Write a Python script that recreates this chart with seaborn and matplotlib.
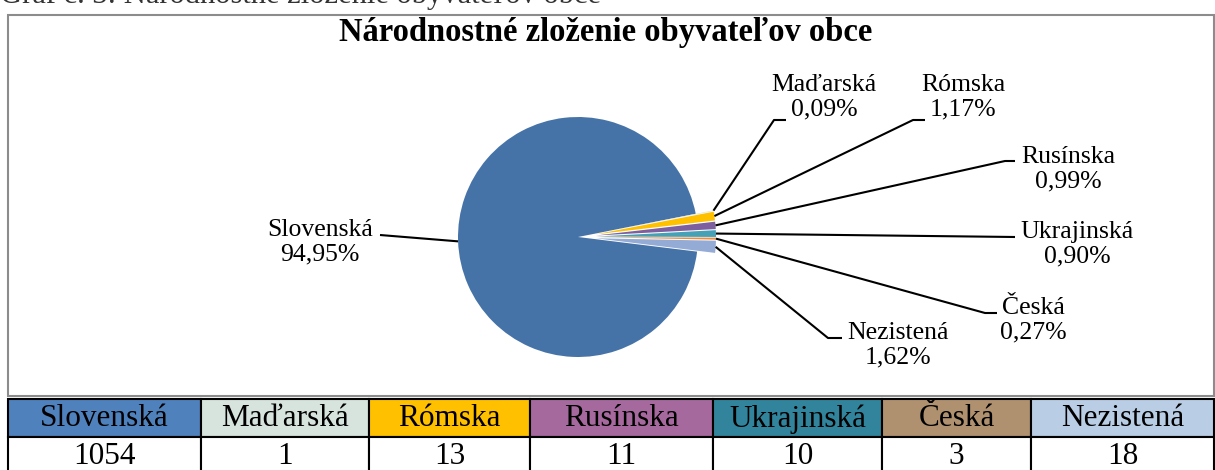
import numpy as np
import matplotlib
matplotlib.use("Agg")
import matplotlib.pyplot as plt
import matplotlib.patches as mpatches
import seaborn as sns

# ---- data ----
categories = ["Slovenská", "Maďarská", "Rómska", "Rusínska", "Ukrajinská", "Česká", "Nezistená"]
counts = [1054, 1, 13, 11, 10, 3, 18]
pie_colors = ["#4573A7", "#D7E4DE", "#FFC000", "#7D5FA0", "#46A0B6", "#F08C3C", "#94ABD5"]
table_colors = ["#4F81BD", "#D7E4DE", "#FFC000", "#A5699E", "#31849B", "#B0916F", "#B9CDE5"]
title = "Národnostné zloženie obyvateľov obce"
caption = "Graf č. 3: Národnostné zloženie obyvateľov obce"

sns.set_theme(style="white")
plt.rcParams["font.family"] = ["Liberation Serif", "DejaVu Serif"]
plt.rcParams["text.color"] = "black"

W, H = 1215, 470
fig = plt.figure(figsize=(W / 100, H / 100), dpi=100)
ax = fig.add_axes([0, 0, 1, 1])
ax.set_xlim(0, W)
ax.set_ylim(0, H)
ax.set_aspect("equal")
ax.axis("off")

def Y(py):
    return H - py

total = sum(counts)
pcts = [c / total * 100 for c in counts]
pct_labels = [f"{p:.2f}%".replace(".", ",") for p in pcts]

# caption above the chart (cut off by the page edge, as in the reference)
ax.text(0, Y(3), caption, ha="left", va="baseline", fontsize=22, color="#333333")

# chart frame
ax.add_patch(mpatches.Rectangle((8, Y(396)), 1206, 381, fill=False,
                                edgecolor="#8C8C8C", linewidth=1.5))

ax.text(606, Y(32), title, ha="center", va="center", fontsize=23.5,
        fontweight="bold", color="black")

# pie
cx, cy, R = 578, Y(237), 120
explode = [0] + [18] * (len(counts) - 1)
wedges, _ = ax.pie(counts, colors=pie_colors, startangle=-7, counterclock=False,
                   center=(cx, cy), radius=R, explode=explode,
                   wedgeprops=dict(linewidth=0), frame=True)
ax.set_xlim(0, W)
ax.set_ylim(0, H)
ax.axis("off")

# label layout: (text x, text y center, elbow points in pixel coords)
label_layout = [
    (320, 242, [(380, 235)]),
    (824, 97, [(774, 120), (786, 120)]),
    (963, 97, [(913, 120), (925, 120)]),
    (1068, 169, [(1005, 161), (1015, 161)]),
    (1077, 244, [(1015, 237)]),
    (1033, 320, [(985, 313), (997, 313)]),
    (898, 345, [(828, 338), (842, 338)]),
]

for w, cat, pl, (tx, ty, pts) in zip(wedges, categories, pct_labels, label_layout):
    mid = np.deg2rad((w.theta1 + w.theta2) / 2)
    sx = w.center[0] + w.r * np.cos(mid)
    sy = w.center[1] + w.r * np.sin(mid)
    xs = [sx] + [p[0] for p in pts]
    ys = [sy] + [Y(p[1]) for p in pts]
    ax.plot(xs, ys, color="black", linewidth=1.5, solid_capstyle="butt")
    ax.text(tx, Y(ty), f"{cat}\n{pl}", ha="center", va="center", fontsize=18.5,
            linespacing=1.15, multialignment="center", color="black")

# data table
col_edges = [8, 201, 369, 530, 713, 882, 1031, 1214]
row_top, row_mid, row_bot = 399, 437, 475
for i, (cat, cnt, col) in enumerate(zip(categories, counts, table_colors)):
    x0, x1 = col_edges[i], col_edges[i + 1]
    ax.add_patch(mpatches.Rectangle((x0, Y(row_mid)), x1 - x0, row_mid - row_top,
                                    facecolor=col, edgecolor="black", linewidth=1.5))
    ax.add_patch(mpatches.Rectangle((x0, Y(row_bot)), x1 - x0, row_bot - row_mid,
                                    facecolor="white", edgecolor="black", linewidth=1.5))
    ax.text((x0 + x1) / 2, Y(419), cat, ha="center", va="center", fontsize=22.5, color="black")
    ax.text((x0 + x1) / 2, Y(456), str(cnt), ha="center", va="center", fontsize=22.5, color="black")

fig.savefig("out.png", dpi=100, facecolor="white")
